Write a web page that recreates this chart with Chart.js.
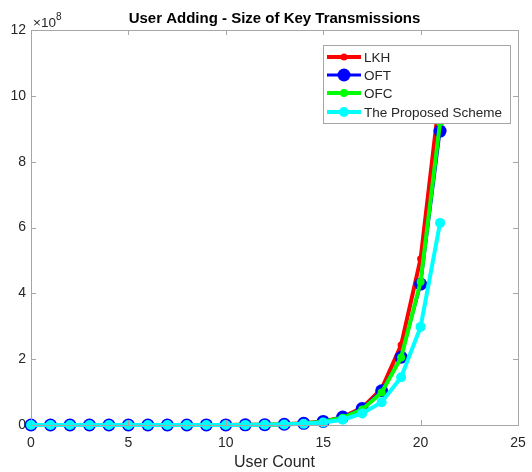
<!DOCTYPE html>
<html><head><meta charset="utf-8">
<script src="https://cdn.jsdelivr.net/npm/chart.js@4"></script>
<style>html,body{margin:0;padding:0;background:#fff}canvas{display:block}</style>
</head><body>
<canvas id="c" width="532" height="472"></canvas>
<script>
// values in units of 10^8
const userCount = [0,1,2,3,4,5,6,7,8,9,10,11,12,13,14,15,16,17,18,19,20,21];
const lkh      = [0.000001,0.000003,0.000007,0.000015,0.00003,0.00006,0.00012,0.00025,0.0005,0.0011,0.0024,0.005,0.011,0.023,0.05,0.11,0.24,0.52,1.10,2.43,5.05,10.1];
const oft      = [0.000001,0.000002,0.000005,0.00001,0.00002,0.00005,0.0001,0.0002,0.0005,0.001,0.002,0.0045,0.01,0.022,0.05,0.11,0.24,0.50,1.04,2.06,4.28,8.93];
const ofc      = [0.000001,0.000002,0.000005,0.00001,0.00002,0.00005,0.0001,0.0002,0.0004,0.001,0.002,0.0043,0.0095,0.021,0.048,0.10,0.22,0.47,0.99,2.05,4.35,9.2];
const proposed = [0.000001,0.000002,0.000003,0.000007,0.000015,0.00003,0.00007,0.00015,0.0003,0.0007,0.0015,0.003,0.007,0.015,0.035,0.075,0.16,0.35,0.69,1.45,2.98,6.14];
const seriesNames = ['LKH','OFT','OFC','The Proposed Scheme'];
const xTicks = [0,5,10,15,20,25];
const yTicks = [0,2,4,6,8,10,12];
const titleText = 'User Adding - Size of Key Transmissions';
const xTitle = 'User Count';

const FONT = '"Liberation Sans", Arial, Helvetica, sans-serif';
const AXIS = '#a6a6a6';
const TEXT = '#262626';

const styles = [
  {color:'#ff0000', lw:4, r:3.5, order:4},
  {color:'#0000ff', lw:3, r:6.5, order:3},
  {color:'#00ff00', lw:4, r:4, order:2},
  {color:'#00ffff', lw:4, r:5, order:1}
];
const allData = [lkh, oft, ofc, proposed];

const datasets = allData.map((arr,i)=>({
  label: seriesNames[i],
  data: userCount.map((x,j)=>({x:x, y:arr[j]})),
  borderColor: styles[i].color,
  backgroundColor: styles[i].color,
  pointBackgroundColor: styles[i].color,
  pointBorderColor: styles[i].color,
  pointRadius: styles[i].r,
  pointBorderWidth: 0,
  borderWidth: styles[i].lw,
  tension: 0,
  order: styles[i].order,
  clip: false
}));

const decor = {
  id: 'decor',
  afterDraw(chart) {
    const ctx = chart.ctx, a = chart.chartArea;
    const xs = chart.scales.x, ys = chart.scales.y;
    ctx.save();
    ctx.strokeStyle = AXIS; ctx.lineWidth = 1;
    ctx.strokeRect(Math.round(a.left)+0.5, Math.round(a.top)+0.5, Math.round(a.right-a.left), Math.round(a.bottom-a.top));
    ctx.beginPath();
    xTicks.forEach(v=>{
      const px = Math.round(xs.getPixelForValue(v))+0.5;
      ctx.moveTo(px, a.bottom); ctx.lineTo(px, a.bottom-5);
      ctx.moveTo(px, a.top); ctx.lineTo(px, a.top+5);
    });
    yTicks.forEach(v=>{
      const py = Math.round(ys.getPixelForValue(v))+0.5;
      ctx.moveTo(a.left, py); ctx.lineTo(a.left+5, py);
      ctx.moveTo(a.right, py); ctx.lineTo(a.right-5, py);
    });
    ctx.stroke();
    // title centered over plot area
    ctx.fillStyle = '#000';
    ctx.font = 'bold 15px ' + FONT;
    ctx.textAlign = 'center'; ctx.textBaseline = 'middle';
    ctx.fillText(titleText, (a.left + a.right) / 2, 19);
    // exponent label
    ctx.fillStyle = TEXT;
    ctx.textBaseline = 'alphabetic'; ctx.textAlign = 'left';
    ctx.font = '13.5px ' + FONT;
    ctx.fillText('\u00d710', a.left+2, 27);
    const w = ctx.measureText('\u00d710').width;
    ctx.font = '10px ' + FONT;
    ctx.fillText('8', a.left+2+w, 20);
    // legend
    const lx = 323, ly = 45, lw = 187, lh = 78;
    ctx.fillStyle = '#fff';
    ctx.fillRect(lx, ly, lw, lh);
    ctx.strokeStyle = AXIS; ctx.lineWidth = 1;
    ctx.strokeRect(lx+0.5, ly+0.5, lw, lh);
    const rows = [57, 75, 93, 112];
    seriesNames.forEach((n,i)=>{
      const s = styles[i], y = rows[i];
      ctx.strokeStyle = s.color; ctx.lineWidth = s.lw;
      ctx.beginPath(); ctx.moveTo(327, y); ctx.lineTo(361, y); ctx.stroke();
      ctx.fillStyle = s.color;
      ctx.beginPath(); ctx.arc(344, y, s.r, 0, Math.PI*2); ctx.fill();
      ctx.fillStyle = TEXT; ctx.font = '13.5px ' + FONT;
      ctx.textBaseline = 'middle';
      ctx.fillText(n, 364, y+1);
    });
    ctx.restore();
  }
};

new Chart(document.getElementById('c'), {
  type: 'line',
  data: { datasets },
  options: {
    responsive: false,
    animation: false,
    layout: { padding: { left: 0, right: 14, top: 30, bottom: 0 } },
    plugins: {
      legend: { display: false },
      tooltip: { enabled: false },
      title: { display: false }
    },
    scales: {
      x: {
        type: 'linear', min: 0, max: 25,
        afterBuildTicks: s => { s.ticks = xTicks.map(v=>({value:v})); },
        afterFit: s => { s.height = 47; s.paddingLeft = 0; s.paddingRight = 0; },
        grid: { drawOnChartArea: false, drawTicks: false },
        border: { display: true, color: AXIS },
        ticks: { color: TEXT, font: { family: FONT, size: 14 }, padding: 10, maxRotation: 0 },
        title: { display: true, text: xTitle, color: TEXT, font: { family: FONT, size: 16 }, padding: { top: 0, bottom: 0 } }
      },
      y: {
        type: 'linear', min: 0, max: 12,
        afterBuildTicks: s => { s.ticks = yTicks.map(v=>({value:v})); },
        afterFit: s => { s.width = 31; s.paddingTop = 0; s.paddingBottom = 0; },
        grid: { drawOnChartArea: false, drawTicks: false },
        border: { display: true, color: AXIS },
        ticks: { color: TEXT, font: { family: FONT, size: 14 }, padding: 5 }
      }
    }
  },
  plugins: [decor]
});
</script>
</body></html>
